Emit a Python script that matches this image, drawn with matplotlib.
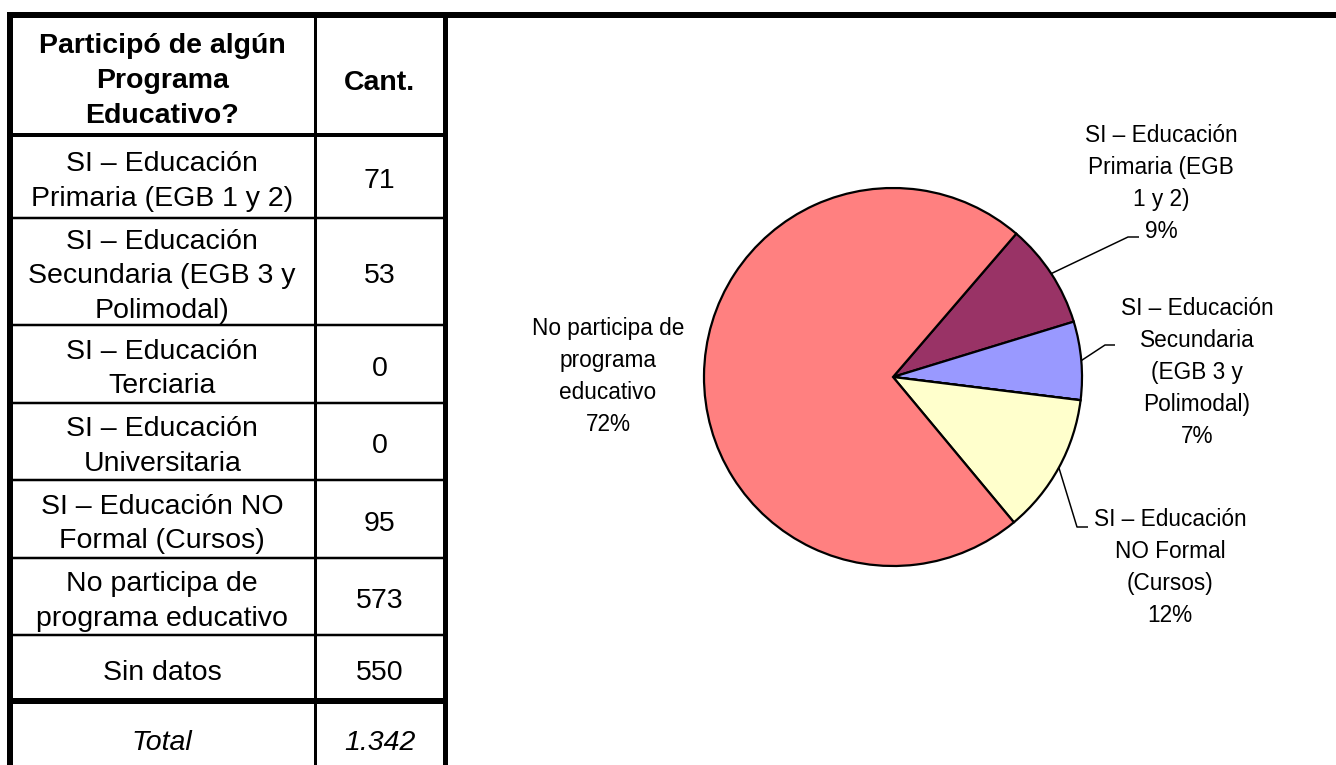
import matplotlib
matplotlib.use("Agg")
import matplotlib.pyplot as plt
import numpy as np
import textwrap

plt.rcParams['font.family'] = ['Liberation Sans', 'DejaVu Sans']

# ---------------- data ----------------
header_col1 = "Participó de algún\nPrograma\nEducativo?"
header_col2 = "Cant."
categories = [
    "SI – Educación Primaria (EGB 1 y 2)",
    "SI – Educación Secundaria (EGB 3 y Polimodal)",
    "SI – Educación Terciaria",
    "SI – Educación Universitaria",
    "SI – Educación NO Formal (Cursos)",
    "No participa de programa educativo",
    "Sin datos",
]
counts = [71, 53, 0, 0, 95, 573, 550]
total_label = "Total"

pie_values = counts[:6]
pie_labels = [
    "SI – Educación\nPrimaria (EGB\n1 y 2)",
    "SI – Educación\nSecundaria\n(EGB 3 y\nPolimodal)",
    "SI – Educación\nTerciaria",
    "SI – Educación\nUniversitaria",
    "SI – Educación\nNO Formal\n(Cursos)",
    "No participa de\nprograma\neducativo",
]
pie_colors = ["#993366", "#9999FF", "#CCFFFF", "#660066", "#FFFFCC", "#FF8080"]

# ---------------- layout ----------------
W, H = 1336, 765
PT = 0.72  # px -> pt at 100 dpi
fig = plt.figure(figsize=(W / 100, H / 100), dpi=100)
bg = fig.add_axes([0, 0, 1, 1])
bg.set_xlim(0, W)
bg.set_ylim(H, 0)
bg.axis('off')


def hline(y, x0, x1, lw):
    bg.plot([x0, x1], [y, y], color='k', lw=lw * PT, solid_capstyle='butt')


def vline(x, y0, y1, lw):
    bg.plot([x, x], [y0, y1], color='k', lw=lw * PT, solid_capstyle='butt')


def mtext(x, yc, text, size, spacing, **kw):
    lines = text.split("\n")
    n = len(lines)
    em = size / PT
    for i, ln in enumerate(lines):
        y = yc + (i - (n - 1) / 2) * spacing
        bg.text(x, y + 0.36 * em, ln, ha='center', va='baseline',
                fontsize=size, color='k', **kw)


# ---------------- table ----------------
x_left, x_mid, x_right = 10, 314.5, 444.5
top = 14.5
row_bounds = [135, 218, 325, 403, 480, 558, 635, 701]

hline(top, 7, W, 6)
vline(x_left, 12, H, 6)
vline(x_mid, 14, H, 3)
vline(x_right, 12, H, 5)
for k, yb in enumerate(row_bounds):
    lw = 4 if k == 0 else (6 if k == len(row_bounds) - 1 else 2.5)
    hline(yb, x_left, x_right, lw)

c1 = (x_left + x_mid) / 2
c2 = (x_mid + x_right) / 2
TS = 20.5
mtext(c1, 78, header_col1, TS, 35, fontweight='bold')
mtext(c2, 80, header_col2, TS, 35, fontweight='bold')

for i, (cat, val) in enumerate(zip(categories, counts)):
    yc = (row_bounds[i] + row_bounds[i + 1]) / 2 + 1.5
    mtext(c1, yc, textwrap.fill(cat, 20), TS, 34.5)
    mtext(c2, yc, str(val), TS, 34.5)

total = sum(counts)
mtext(c1, 740, total_label, TS, 34.5, fontstyle='italic')
mtext(c2, 740, f"{total:,}".replace(",", "."), TS, 34.5, fontstyle='italic')

# ---------------- pie ----------------
cx, cy, R = 893, 377, 189
pad = 1.06
pax = fig.add_axes([(cx - R * pad) / W, (H - cy - R * pad) / H,
                    2 * R * pad / W, 2 * R * pad / H])
wedges, _ = pax.pie(pie_values, colors=pie_colors, startangle=49.3,
                    counterclock=False, radius=1,
                    wedgeprops=dict(edgecolor='k', linewidth=1.6))
pax.set_xlim(-pad, pad)
pax.set_ylim(-pad, pad)

label_pos = {0: (1161, 182), 1: (1197, 371), 4: (1170, 566), 5: (608, 375)}
leader_bends = {0: [(1128, 237), (1139, 237)],
                1: [(1105, 345), (1115, 345)],
                4: [(1077, 527), (1088, 527)]}

tot_pie = sum(pie_values)
for i, (w, v) in enumerate(zip(wedges, pie_values)):
    if v == 0:
        continue
    pct = round(100 * v / tot_pie)
    lx, ly = label_pos[i]
    mtext(lx, ly, f"{pie_labels[i]}\n{pct}%", 16.3, 32)
    if i in leader_bends:
        th = np.deg2rad((w.theta1 + w.theta2) / 2)
        ex, ey = cx + R * np.cos(th), cy - R * np.sin(th)
        pts = [(ex, ey)] + leader_bends[i]
        bg.plot([p[0] for p in pts], [p[1] for p in pts], color='k',
                lw=1.5 * PT, solid_capstyle='butt')

fig.savefig("out.png", dpi=100)
